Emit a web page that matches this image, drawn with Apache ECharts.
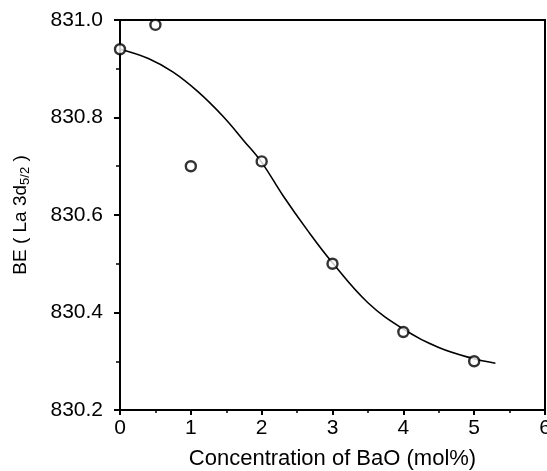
<!DOCTYPE html>
<html>
<head>
<meta charset="utf-8">
<script src="https://cdn.jsdelivr.net/npm/echarts@6/dist/echarts.min.js"></script>
<style>
html,body{margin:0;padding:0;background:#fff;}
#c{width:547px;height:471px;}
</style>
</head>
<body>
<div id="c"></div>
<script>
// measured points
const pointX = [0, 0.5, 1, 2, 3, 4, 5];
const pointY = [830.94, 830.99, 830.70, 830.71, 830.50, 830.36, 830.30];
// fitted curve
const curveX = [0, 0.4, 0.75, 1.1, 1.45, 1.75, 2.0, 2.3, 2.65, 3.0, 3.5, 4.0, 4.5, 5.0, 5.3];
const curveY = [830.94, 830.921, 830.893, 830.853, 830.803, 830.752, 830.708, 830.640, 830.568, 830.502, 830.42, 830.366, 830.328, 830.305, 830.296];
const xTicks = [0, 1, 2, 3, 4, 5, 6];
const yTicks = [830.2, 830.4, 830.6, 830.8, 831.0];

const font = '"Liberation Sans", Arial, Helvetica, sans-serif';
const chart = echarts.init(document.getElementById('c'), null, {renderer: 'canvas'});
chart.setOption({
  animation: false,
  backgroundColor: '#fff',
  grid: {left: 120, right: 2, top: 20, bottom: 61, show: true, borderColor: '#000', borderWidth: 2,
         containLabel: false, outerBoundsMode: 'none'},
  xAxis: {
    type: 'value', min: xTicks[0], max: xTicks[xTicks.length - 1], interval: 1,
    name: 'Concentration of BaO (mol%)', nameLocation: 'middle', nameGap: 38,
    nameTextStyle: {fontFamily: font, fontSize: 22, color: '#000'},
    axisLine: {lineStyle: {color: '#000', width: 2}},
    axisTick: {inside: false, length: 5, lineStyle: {color: '#000', width: 2}},
    minorTick: {show: true, splitNumber: 2, length: 3, lineStyle: {color: '#000', width: 1.5}},
    axisLabel: {fontFamily: font, fontSize: 21, color: '#000', margin: 8, showMaxLabel: true},
    splitLine: {show: false}
  },
  yAxis: {
    type: 'value', min: yTicks[0], max: yTicks[yTicks.length - 1], interval: 0.2,
    name: 'BE ( La 3d{sub|5/2} )', nameLocation: 'middle', nameGap: 88, nameRotate: 90,
    nameTextStyle: {fontFamily: font, fontSize: 19, color: '#000',
      rich: {sub: {fontFamily: font, fontSize: 13, color: '#000', verticalAlign: 'bottom', padding: [9, 0, 0, 0]}}},
    axisLine: {lineStyle: {color: '#000', width: 2}},
    axisTick: {inside: false, length: 6, lineStyle: {color: '#000', width: 2}},
    minorTick: {show: true, splitNumber: 2, length: 4, lineStyle: {color: '#000', width: 1.5}},
    axisLabel: {fontFamily: font, fontSize: 21, color: '#000', margin: 17,
      formatter: v => v.toFixed(1)},
    splitLine: {show: false}
  },
  series: [
    {
      type: 'line', smooth: 0.4, showSymbol: false, symbol: 'none',
      data: curveX.map((x, i) => [x, curveY[i]]),
      lineStyle: {color: '#000', width: 1.6}, z: 2
    },
    {
      type: 'scatter', symbol: 'circle', symbolSize: 10,
      data: pointX.map((x, i) => [x, pointY[i]]),
      itemStyle: {color: '#fff', borderColor: '#000', borderWidth: 2.4}, z: 3
    }
  ]
});
</script>
</body>
</html>
